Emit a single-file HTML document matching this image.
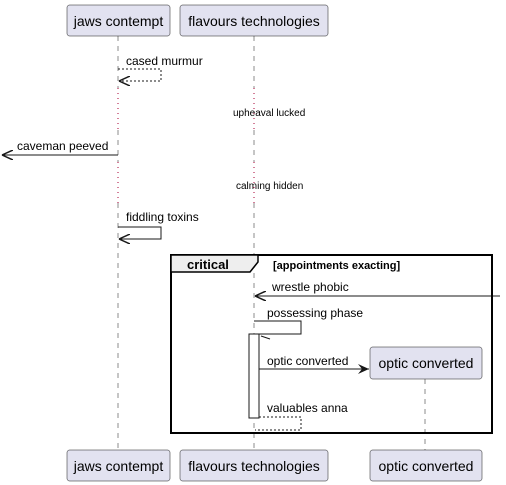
<!DOCTYPE html>
<html><head><style>
html,body{margin:0;padding:0;background:#fff;width:506px;height:485px;overflow:hidden}
</style></head><body>
<svg width="506" height="485" xmlns="http://www.w3.org/2000/svg" font-family="Liberation Sans, sans-serif">
<defs>
<marker id="a" markerWidth="12" markerHeight="10" refX="11" refY="5" orient="auto" markerUnits="userSpaceOnUse">
<path d="M0,0 L11,5 L0,10 L4,5 Z" fill="#181818"/></marker>
<marker id="o" markerWidth="12" markerHeight="10" refX="11" refY="5" orient="auto" markerUnits="userSpaceOnUse">
<path d="M0,0 L11,5 M0,10 L11,5" stroke="#181818" stroke-width="1.5" fill="none"/></marker>
</defs>
<g stroke="#181818" stroke-width="0.5" stroke-dasharray="5,5">
<line x1="118" y1="36" x2="118" y2="88"/><line x1="118" y1="130" x2="118" y2="162"/><line x1="118" y1="203" x2="118" y2="450"/>
<line x1="254" y1="36" x2="254" y2="88"/><line x1="254" y1="130" x2="254" y2="162"/><line x1="254" y1="203" x2="254" y2="450"/>
<line x1="425" y1="379" x2="425" y2="450"/>
</g>
<g stroke="#a80036" stroke-width="1" stroke-dasharray="1,4">
<line x1="118" y1="88" x2="118" y2="130"/><line x1="254" y1="88" x2="254" y2="130"/>
<line x1="118" y1="162" x2="118" y2="203"/><line x1="254" y1="162" x2="254" y2="203"/>
</g>
<g fill="#e2e2f0" stroke="#181818" stroke-width="0.5">
<rect x="67" y="5" width="103" height="31" rx="2.5"/><rect x="180" y="5" width="148" height="31" rx="2.5"/>
<rect x="67" y="450" width="103" height="31" rx="2.5"/><rect x="180" y="450" width="148" height="31" rx="2.5"/>
<rect x="370" y="450" width="112" height="31" rx="2.5"/><rect x="370" y="347" width="112" height="32" rx="2.5"/>
</g>
<g font-size="14" fill="#000" text-anchor="middle">
<text x="118.5" y="26">jaws contempt</text><text x="254" y="26">flavours technologies</text>
<text x="118.5" y="471">jaws contempt</text><text x="254" y="471">flavours technologies</text>
<text x="426" y="471">optic converted</text><text x="426" y="368">optic converted</text>
</g>
<g stroke="#181818" fill="none" stroke-width="1">
<path d="M118,69 H161 V81 H119" stroke-dasharray="2,2" marker-end="url(#o)"/>
<line x1="118" y1="155" x2="2" y2="155" marker-end="url(#o)"/>
<path d="M118,227 H161 V239 H119" marker-end="url(#o)"/>
<line x1="500" y1="296" x2="255" y2="296" marker-end="url(#o)"/>
<path d="M254,321 H301 V334 H255"/>
<line x1="259" y1="369" x2="369" y2="369" marker-end="url(#a)"/>
<path d="M259,417 H301 V430 H255" stroke-dasharray="2,2"/>
</g>
<rect x="249" y="334" width="10" height="84" fill="#fff" stroke="#181818" stroke-width="1"/>
<line x1="261" y1="336" x2="270" y2="339" stroke="#181818"/>
<rect x="171" y="255" width="321" height="178" fill="none" stroke="#000" stroke-width="2"/>
<path d="M171,255 H258 V262 L250,272 H171 Z" fill="#eee" stroke="#000" stroke-width="1.5"/>
<g font-size="12" fill="#000">
<text x="126" y="65">cased murmur</text>
<text x="233" y="116" font-size="10">upheaval lucked</text>
<text x="17" y="150">caveman peeved</text>
<text x="236" y="189" font-size="10">calming hidden</text>
<text x="126" y="221">fiddling toxins</text>
<text x="187" y="269" font-weight="bold" font-size="13">critical</text>
<text x="273" y="269" font-weight="bold" font-size="11">[appointments exacting]</text>
<text x="272" y="291">wrestle phobic</text>
<text x="267" y="317">possessing phase</text>
<text x="267" y="365">optic converted</text>
<text x="267" y="412">valuables anna</text>
</g>
</svg>
</body></html>
